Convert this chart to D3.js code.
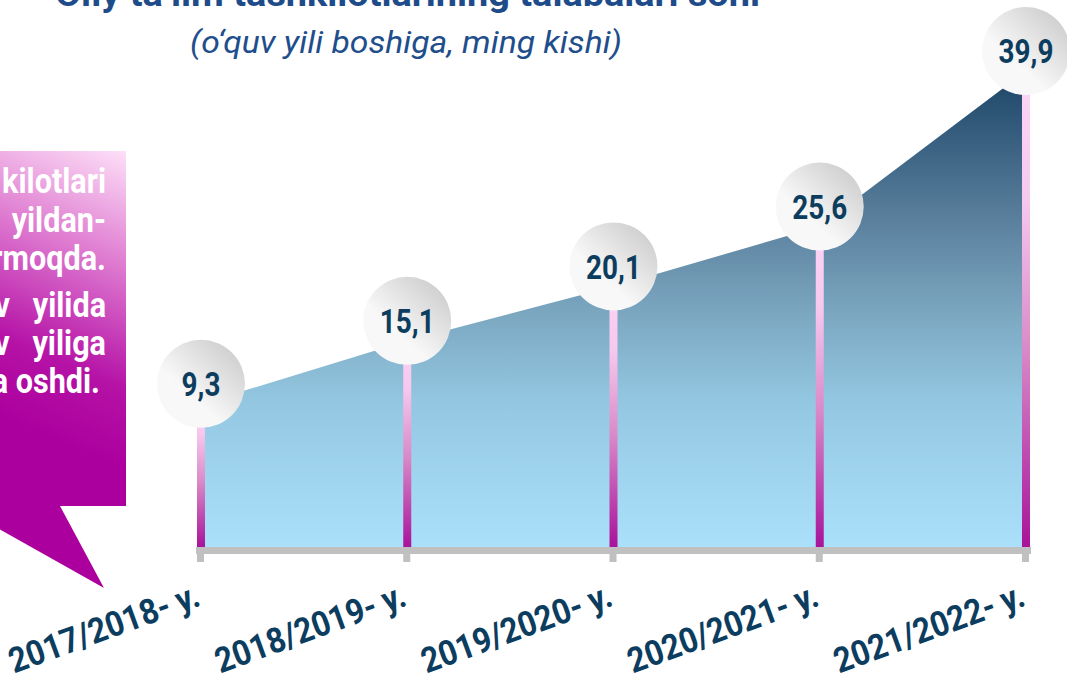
<!DOCTYPE html>
<html>
<head>
<meta charset="utf-8">
<script src="https://cdn.jsdelivr.net/npm/d3@7"></script>
<style>
  body { margin: 0; background: #fff; }
  svg { display: block; font-family: Roboto, "Noto Sans", sans-serif; }
</style>
</head>
<body>
<svg id="chart" width="1067" height="673"></svg>
<script>
var years = ["2017/2018- y.", "2018/2019- y.", "2019/2020- y.", "2020/2021- y.", "2021/2022- y."];
var students = [9.3, 15.1, 20.1, 25.6, 39.9];
var titleText = "Oliy ta\u2019lim tashkilotlarining talabalari soni";
var subtitleText = "(o\u2018quv yili boshiga, ming kishi)";
var calloutLines = ["kilotlari", "yildan-", "rmoqda.", "v   yilida", "v   yiliga", "a oshdi."];

var svg = d3.select("#chart"),
    baseY = 547,
    radius = 44,
    navy = "#0c3d5f",
    fmt = function(v) { return d3.format(".1f")(v).replace(".", ","); };

var x = d3.scalePoint().domain(years).range([201, 1026]);
var y = d3.scaleLinear().domain([0, 40]).range([505, 70]);

var data = years.map(function(d, i) { return {year: d, value: students[i]}; });

var defs = svg.append("defs");

// area fill: dark navy at the top to light sky blue at the base
var areaGrad = defs.append("linearGradient")
    .attr("id", "areaGrad")
    .attr("gradientUnits", "userSpaceOnUse")
    .attr("x1", 0).attr("x2", 0)
    .attr("y1", y(d3.max(students))).attr("y2", baseY);
[[0, "#1c4466"], [0.33, "#5d83a0"], [0.5, "#7aa5bf"], [0.7, "#94c8e2"], [1, "#abe0fb"]].forEach(function(s) {
    areaGrad.append("stop").attr("offset", s[0]).attr("stop-color", s[1]);
});

var stemGrad = defs.append("linearGradient")
    .attr("id", "stemGrad")
    .attr("x1", 0).attr("x2", 0).attr("y1", 0).attr("y2", 1);
[[0, "#fdd8f8"], [0.3, "#f6c8ee"], [0.6, "#d98ac8"], [1, "#a8139a"]].forEach(function(s) {
    stemGrad.append("stop").attr("offset", s[0]).attr("stop-color", s[1]);
});

var ballGrad = defs.append("linearGradient")
    .attr("id", "ballGrad")
    .attr("x1", 0.95).attr("y1", 0.05).attr("x2", 0.4).attr("y2", 0.65);
ballGrad.append("stop").attr("offset", 0).attr("stop-color", "#c9c9c9");
ballGrad.append("stop").attr("offset", 1).attr("stop-color", "#f8f8f8");

var boxGrad = defs.append("linearGradient")
    .attr("id", "boxGrad")
    .attr("gradientUnits", "userSpaceOnUse")
    .attr("x1", 126).attr("y1", 151).attr("x2", 10).attr("y2", 420);
[[0, "#fde0f8"], [0.35, "#e07fd2"], [0.75, "#b512a6"], [1, "#ac009e"]].forEach(function(s) {
    boxGrad.append("stop").attr("offset", s[0]).attr("stop-color", s[1]);
});

// callout box on the left
svg.append("path")
    .attr("d", "M-10,151H126V506H60L104,588L-10,524Z")
    .attr("fill", "url(#boxGrad)");

svg.append("g")
    .selectAll("g")
    .data(calloutLines)
    .enter()
    .append("g")
    .attr("transform", function(d, i) {
        var by = [193, 232, 270, 317, 355, 393][i];
        return "translate(" + (i === calloutLines.length - 1 ? 100 : 106) + "," + by + ") scale(0.85,1)";
    })
    .append("text")
    .attr("text-anchor", "end")
    .style("white-space", "pre")
    .attr("fill", "#fff")
    .attr("font-size", 36)
    .attr("font-weight", 700)
    .text(function(d) { return d; });

// title (cut at the top) and subtitle
svg.append("text")
    .attr("x", 55).attr("y", 6)
    .attr("textLength", 705)
    .attr("lengthAdjust", "spacingAndGlyphs")
    .attr("fill", "#1e4b8a")
    .attr("font-size", 35)
    .attr("font-weight", 700)
    .text(titleText);

svg.append("text")
    .attr("x", 190).attr("y", 53)
    .attr("textLength", 432)
    .attr("lengthAdjust", "spacingAndGlyphs")
    .attr("fill", "#1f4e8c")
    .attr("font-size", 32)
    .attr("font-style", "italic")
    .text(subtitleText);

// area
var area = d3.area()
    .x(function(d) { return x(d.year); })
    .y0(baseY)
    .y1(function(d) { return y(d.value); });

svg.append("path")
    .datum(data)
    .attr("d", area)
    .attr("fill", "url(#areaGrad)");

// stems
svg.append("g")
    .selectAll("rect")
    .data(data)
    .enter()
    .append("rect")
    .attr("x", function(d) { return x(d.year) - 4; })
    .attr("y", function(d) { return y(d.value) - 20; })
    .attr("width", 8)
    .attr("height", function(d) { return baseY - y(d.value) + 20; })
    .attr("fill", "url(#stemGrad)");

// axis bar with ticks
var axis = svg.append("g");
axis.append("rect")
    .attr("x", x(years[0]) - 5)
    .attr("y", baseY)
    .attr("width", x(years[years.length - 1]) - x(years[0]) + 10)
    .attr("height", 7)
    .attr("fill", "#c0c0c0");
axis.selectAll(".tick")
    .data(years)
    .enter()
    .append("rect")
    .attr("class", "tick")
    .attr("x", function(d) { return x(d) - 4; })
    .attr("y", baseY)
    .attr("width", 7)
    .attr("height", 15)
    .attr("fill", "#c0c0c0");

axis.selectAll(".lbl")
    .data(years)
    .enter()
    .append("text")
    .attr("class", "lbl")
    .attr("transform", function(d) { return "translate(" + (x(d) + 1) + ",605) rotate(-20)"; })
    .attr("text-anchor", "end")
    .attr("textLength", 200)
    .attr("lengthAdjust", "spacingAndGlyphs")
    .attr("fill", navy)
    .attr("font-size", 35)
    .attr("font-weight", 700)
    .text(function(d) { return d; });

// value balls
var ball = svg.append("g")
    .selectAll("g")
    .data(data)
    .enter()
    .append("g")
    .attr("transform", function(d) { return "translate(" + x(d.year) + "," + (y(d.value) - 20) + ")"; });

ball.append("circle")
    .attr("r", radius)
    .attr("fill", "url(#ballGrad)");

ball.append("text")
    .attr("transform", "scale(0.82,1)")
    .attr("text-anchor", "middle")
    .attr("dy", "0.36em")
    .attr("fill", navy)
    .attr("font-size", 34)
    .attr("font-weight", 700)
    .text(function(d) { return fmt(d.value); });
</script>
</body>
</html>
